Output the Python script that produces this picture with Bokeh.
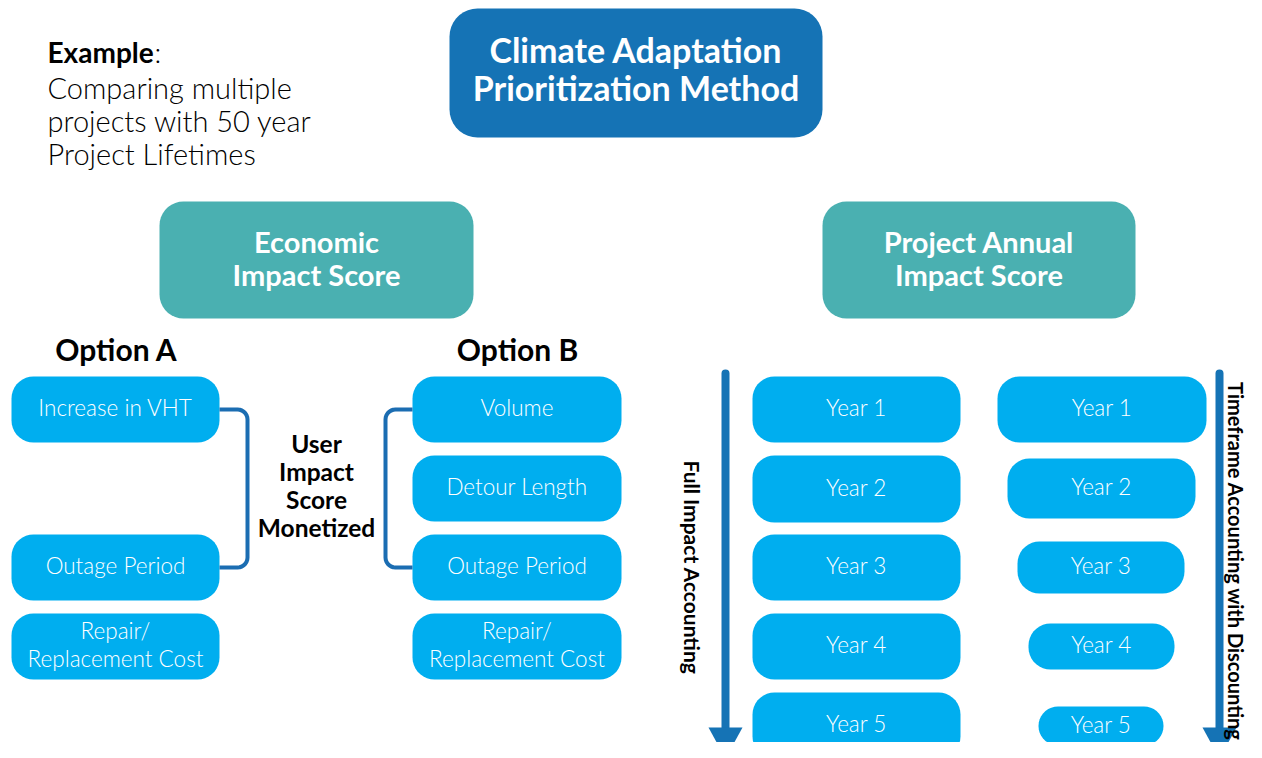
import numpy as np
from bokeh.plotting import figure
from bokeh.models import Range1d, ColumnDataSource
from bokeh.core.properties import value
from bokeh.embed import file_html
from bokeh.resources import INLINE

# ---------------- content ----------------
example_head = "Example"
example_lines = ["Comparing multiple", "projects with 50 year", "Project Lifetimes"]
title_lines = ["Climate Adaptation", "Prioritization Method"]
econ_lines = ["Economic", "Impact Score"]
annual_lines = ["Project Annual", "Impact Score"]
option_labels = ["Option A", "Option B"]
option_a_items = ["Increase in VHT", "Outage Period", "Repair/\nReplacement Cost"]
option_b_items = ["Volume", "Detour Length", "Outage Period", "Repair/\nReplacement Cost"]
user_impact_lines = ["User", "Impact", "Score", "Monetized"]
year_labels = ["Year 1", "Year 2", "Year 3", "Year 4", "Year 5"]
arrow_labels = ["Full Impact Accounting", "Timeframe Accounting with Discounting"]

# ---------------- style ----------------
FONT = "Lato"
LIGHT = "Lato Light"
DARK_BLUE = "#1573b5"
LINE_BLUE = "#1b6db2"
TEAL = "#4ab0b1"
CYAN = "#00aeef"
DY = -2  # small vertical correction for text centring

W, H = 1246, 742
p = figure(width=W, height=H, x_range=Range1d(0, W), y_range=Range1d(H, 0),
           output_backend="svg", toolbar_location=None, min_border=0,
           outline_line_color=None, background_fill_color="white")
p.axis.visible = False
p.grid.visible = False


def rrect(x0, y0, x1, y1, r, n=10):
    r = min(r, (x1 - x0) / 2, (y1 - y0) / 2)
    xs, ys = [], []
    corners = [((x1 - r, y0 + r), -90, 0), ((x1 - r, y1 - r), 0, 90),
               ((x0 + r, y1 - r), 90, 180), ((x0 + r, y0 + r), 180, 270)]
    for (cx, cy), a0, a1 in corners:
        t = np.radians(np.linspace(a0, a1, n))
        xs.extend(cx + r * np.cos(t))
        ys.extend(cy + r * np.sin(t))
    return xs, ys


def boxes(rects, color, r):
    xs, ys = [], []
    for (x0, y0, x1, y1) in rects:
        a, b = rrect(x0, y0, x1, y1, r)
        xs.append(a)
        ys.append(b)
    p.patches(xs, ys, fill_color=color, line_color=None)


def texts(xs, ys, labels, size, bold=False, color="black", align="center", angle=0.0, font=FONT):
    ys = [y + (DY if angle == 0.0 else 0) for y in ys]
    src = ColumnDataSource(dict(x=xs, y=ys, t=labels))
    p.text(x="x", y="y", text="t", source=src, text_font=value(font),
           text_font_size=value(f"{size}px"), text_font_style="bold" if bold else "normal",
           text_color=color, text_align=align, text_baseline="middle", angle=angle)


def box_labels(cx, cy, label, size=22.5):
    parts = label.split("\n")
    if len(parts) == 1:
        texts([cx], [cy], parts, size, color="white", font=LIGHT)
    else:
        texts([cx] * 2, [cy - 14, cy + 14], parts, size, color="white", font=LIGHT)


def bracket(xs_start, x_edge, y0, y1, r=10):
    s = 1 if x_edge > xs_start else -1
    px = [xs_start, x_edge - s * r]
    py = [y0, y0]
    t = np.linspace(-90, 0, 8)
    px += list(x_edge - s * r + s * r * np.cos(np.radians(t)))
    py += list(y0 + r + r * np.sin(np.radians(t)))
    t = np.linspace(0, 90, 8)
    px += list(x_edge - s * r + s * r * np.cos(np.radians(t)))
    py += list(y1 - r + r * np.sin(np.radians(t)))
    px += [xs_start]
    py += [y1]
    p.line(px, py, line_color=LINE_BLUE, line_width=4)


# ---------------- header ----------------
texts([47], [53], [example_head], 28, bold=True, align="left")
texts([154], [53], [":"], 28, align="left", font=LIGHT)
texts([47] * 3, [89, 122, 155], example_lines, 29, align="left", font=LIGHT)

boxes([(449, 8, 822, 137)], DARK_BLUE, 28)
texts([635.5] * 2, [51, 89], title_lines, 34, bold=True, color="white")

boxes([(159, 201, 473, 318), (822, 201, 1135, 318)], TEAL, 24)
texts([316] * 2, [243, 276], econ_lines, 29, bold=True, color="white")
texts([978.5] * 2, [243, 276], annual_lines, 29, bold=True, color="white")

# ---------------- options ----------------
texts([116, 517], [350, 350], option_labels, 30, bold=True)

a_rows = [(376, 442), (534, 600), (613, 679)]
b_rows = [(376, 442), (455, 521), (534, 600), (613, 679)]
boxes([(11, y0, 219, y1) for y0, y1 in a_rows], CYAN, 22)
boxes([(412, y0, 621, y1) for y0, y1 in b_rows], CYAN, 22)
for (y0, y1), lab in zip(a_rows, option_a_items):
    box_labels(115, (y0 + y1) / 2, lab)
for (y0, y1), lab in zip(b_rows, option_b_items):
    box_labels(516.5, (y0 + y1) / 2, lab)

bracket(219, 247, 409, 567)
bracket(412, 385, 409, 567)
texts([316] * 4, [445, 473, 501, 529], user_impact_lines, 24.5, bold=True)

# ---------------- years ----------------
left_rows = [(376, 442), (455, 522), (534, 600), (613, 679), (692, 758)]
boxes([(752, y0, 960, y1) for y0, y1 in left_rows], CYAN, 22)
for (y0, y1), lab in zip(left_rows, year_labels):
    box_labels(856, (y0 + y1) / 2, lab)

right_rects = [(997, 376, 1206, 442), (1007, 458, 1195, 518), (1017, 541, 1184, 593),
               (1028, 623, 1174, 669), (1038, 706, 1163, 745)]
boxes(right_rects, CYAN, 22)
for (x0, y0, x1, y1), lab in zip(right_rects, year_labels):
    box_labels((x0 + x1) / 2, (y0 + y1) / 2, lab)

# arrows
for ax in (725, 1219):
    p.line([ax, ax], [373, 730], line_color=DARK_BLUE, line_width=8, line_cap="round")
    p.patch([ax - 17, ax + 17, ax], [727, 727, 758], fill_color=DARK_BLUE, line_color=None)

texts([692], [567], arrow_labels[:1], 21, bold=True, angle=-np.pi / 2)
texts([1235], [561], arrow_labels[1:], 20, bold=True, angle=-np.pi / 2)

open("out.html", "w").write(file_html(p, INLINE))
